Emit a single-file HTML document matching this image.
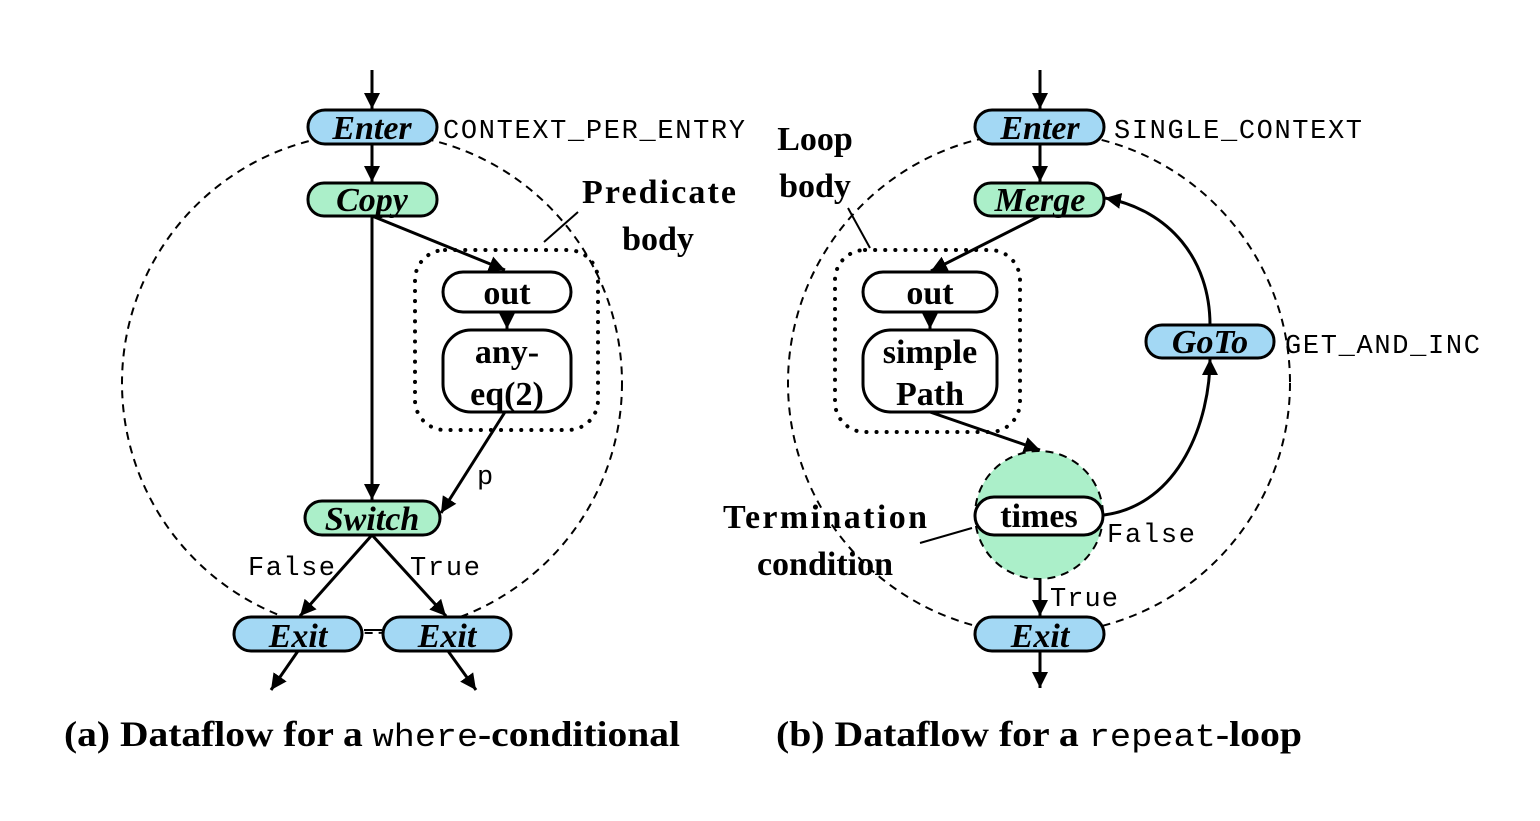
<!DOCTYPE html>
<html><head><style>body{margin:0;background:#fff}</style></head><body>
<svg width="1540" height="816" xmlns="http://www.w3.org/2000/svg" font-family="Liberation Serif, serif">
<defs>
<marker id="b" viewBox="0 0 10 10" markerWidth="16" markerHeight="16" refX="10" refY="5" orient="auto" markerUnits="userSpaceOnUse"><path d="M0,0 L10,5 L0,10 z" fill="#000"/></marker></defs>
<g fill="none" stroke="#000" stroke-width="2">
<circle cx="372" cy="383" r="250" stroke-dasharray="8,6"/>
<circle cx="1039" cy="383" r="251" stroke-dasharray="8,6"/>
<circle cx="1039" cy="515" r="64" fill="#abefc9" stroke-dasharray="8,6"/>
<rect x="415" y="250" width="183" height="180" rx="30" stroke-width="4" stroke-dasharray="0.1,10" stroke-linecap="round"/>
<rect x="835" y="250" width="185" height="182" rx="30" stroke-width="4" stroke-dasharray="0.1,10" stroke-linecap="round"/>
</g>
<g stroke="#000" stroke-width="3" fill="none" marker-end="url(#b)">
<line x1="372" y1="70" x2="372" y2="109"/>
<line x1="372" y1="144" x2="372" y2="182"/>
<line x1="372" y1="216" x2="372" y2="500"/>
<line x1="372" y1="216" x2="505" y2="270"/>
<line x1="507" y1="312" x2="507" y2="329"/>
<line x1="505" y1="412" x2="441" y2="513"/>
<line x1="372" y1="535" x2="300" y2="616"/>
<line x1="372" y1="535" x2="446" y2="616"/>
<line x1="298" y1="651" x2="271" y2="690"/>
<line x1="448" y1="651" x2="476" y2="690"/>
<line x1="1040" y1="70" x2="1040" y2="109"/>
<line x1="1040" y1="144" x2="1040" y2="182"/>
<line x1="1040" y1="216" x2="931" y2="271"/>
<line x1="930" y1="312" x2="930" y2="329"/>
<line x1="930" y1="412" x2="1040" y2="450"/>
<line x1="1040" y1="580" x2="1040" y2="616"/>
<line x1="1040" y1="651" x2="1040" y2="688"/>
<path d="M1104,515 C1180,505 1210,420 1210,359"/>
<path d="M1210,325 C1210,260 1170,210 1105,198"/>
</g>
<g stroke="#000" stroke-width="2"><line x1="544" y1="242" x2="578" y2="212"/><line x1="364" y1="630" x2="382" y2="630"/>
<line x1="870" y1="248" x2="848" y2="208"/><line x1="920" y1="543" x2="972" y2="528"/></g>
<g stroke="#000" stroke-width="3">
<rect x="308" y="110" width="129" height="34" rx="17" fill="#a3d8f4"/>
<rect x="308" y="183" width="129" height="33" rx="16" fill="#abefc9"/>
<rect x="443" y="272" width="128" height="40" rx="20" fill="#fff"/>
<rect x="443" y="330" width="128" height="82" rx="28" fill="#fff"/>
<rect x="305" y="501" width="135" height="34" rx="17" fill="#abefc9"/>
<rect x="234" y="617" width="128" height="34" rx="17" fill="#a3d8f4"/>
<rect x="383" y="617" width="128" height="34" rx="17" fill="#a3d8f4"/>
<rect x="975" y="110" width="129" height="34" rx="17" fill="#a3d8f4"/>
<rect x="975" y="183" width="129" height="33" rx="16" fill="#abefc9"/>
<rect x="863" y="272" width="134" height="40" rx="20" fill="#fff"/>
<rect x="863" y="330" width="134" height="82" rx="28" fill="#fff"/>
<rect x="975" y="497" width="128" height="38" rx="19" fill="#fff"/>
<rect x="1146" y="325" width="128" height="33" rx="16" fill="#a3d8f4"/>
<rect x="975" y="617" width="129" height="34" rx="17" fill="#a3d8f4"/>
</g>
<g font-weight="bold" font-style="italic" font-size="34" text-anchor="middle">
<text x="372" y="139">Enter</text><text x="372" y="211">Copy</text><text x="372" y="530">Switch</text>
<text x="298" y="647">Exit</text><text x="447" y="647">Exit</text>
<text x="1040" y="139">Enter</text><text x="1040" y="211">Merge</text><text x="1210" y="353">GoTo</text><text x="1040" y="647">Exit</text>
</g>
<g font-weight="bold" font-size="34" text-anchor="middle">
<text x="507" y="304">out</text><text x="507" y="363">any-</text><text x="507" y="405">eq(2)</text>
<text x="930" y="304">out</text><text x="930" y="363">simple</text><text x="930" y="405">Path</text>
<text x="1039" y="527">times</text>
<text x="659" y="203" textLength="154">Predicate</text><text x="658" y="250">body</text>
<text x="815" y="150">Loop</text><text x="815" y="197">body</text>
<text x="825" y="528" textLength="204">Termination</text><text x="825" y="575">condition</text>
</g>
<g font-family="Liberation Mono, monospace" font-size="27">
<text x="443" y="138" textLength="302">CONTEXT_PER_ENTRY</text><text x="1114" y="138" textLength="248">SINGLE_CONTEXT</text>
<text x="1285" y="353" textLength="195">GET_AND_INC</text><text x="477" y="484">p</text>
<text x="248" y="575" textLength="87">False</text><text x="410" y="575" textLength="70">True</text>
<text x="1107" y="542" textLength="88">False</text><text x="1050" y="606" textLength="68">True</text>
</g>
<g font-weight="bold" font-size="36">
<text x="64" y="746" textLength="616" lengthAdjust="spacingAndGlyphs">(a) Dataflow for a <tspan font-family="Liberation Mono, monospace" font-weight="normal" font-size="32">where</tspan>-conditional</text>
<text x="776" y="746" textLength="526" lengthAdjust="spacingAndGlyphs">(b) Dataflow for a <tspan font-family="Liberation Mono, monospace" font-weight="normal" font-size="32">repeat</tspan>-loop</text>
</g>
</svg>
</body></html>
